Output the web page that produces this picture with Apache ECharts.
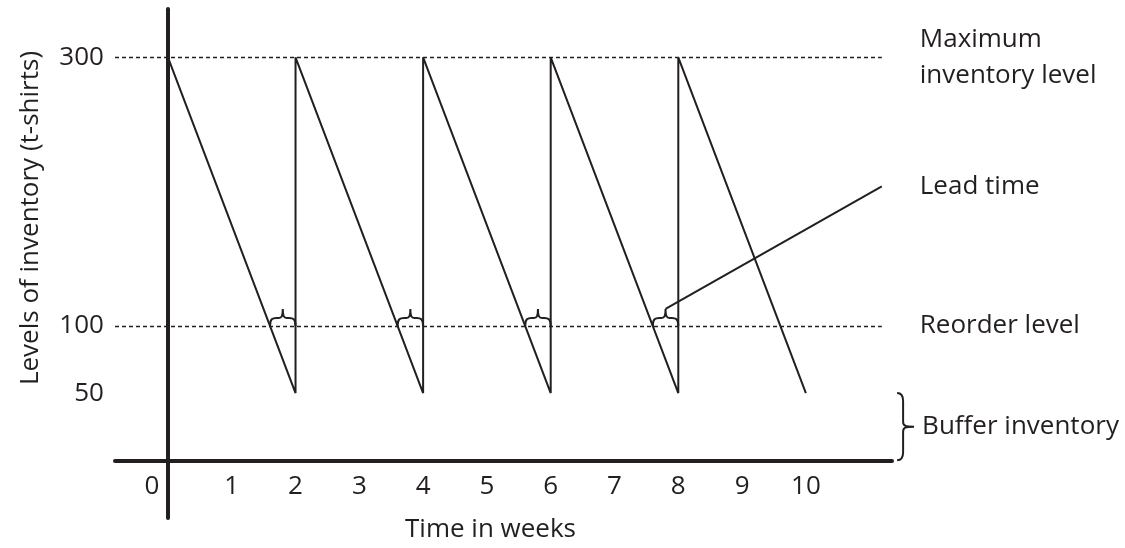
<!DOCTYPE html>
<html>
<head>
<meta charset="utf-8">
<script src="https://cdn.jsdelivr.net/npm/echarts@6/dist/echarts.min.js"></script>
<style>
html,body{margin:0;padding:0;background:#fff;}
#chart{width:1125px;height:548px;}
</style>
</head>
<body>
<div id="chart"></div>
<script>
// ---- data ----
const inventoryWeeks = [0, 2, 2, 4, 4, 6, 6, 8, 8, 10];
const inventoryLevels = [300, 50, 300, 50, 300, 50, 300, 50, 300, 50];
const maxLevel = 300;
const reorderLevel = 100;
const bufferLevel = 50;
const reorderWeeks = [1.6, 3.6, 5.6, 7.6];
const deliveryWeeks = [2, 4, 6, 8];
const weekLabels = [0, 1, 2, 3, 4, 5, 6, 7, 8, 9, 10];
const levelLabels = [300, 100, 50];

// ---- layout / style constants ----
const INK = '#231f20';
const FONT = 'Open Sans';
const FS = 26;
const X_MIN = -0.83, X_MAX = 11.35;
const Y_MIN = -43, Y_MAX = 336;
const GRID = {left: 115, right: 233, top: 9, bottom: 30};
const LINE_END = 11.19;      // where the dashed guide lines stop
const BUFFER_X = 11.43;      // where the buffer brace sits
const LEAD_ANCHOR = [11.19, 204];

// axis lines cross at the zero of the other axis
const plotW = 1125 - GRID.left - GRID.right;
const plotH = 548 - GRID.top - GRID.bottom;
const yAxisOffset = -plotW * (0 - X_MIN) / (X_MAX - X_MIN);
const xAxisOffset = -plotH * (0 - Y_MIN) / (Y_MAX - Y_MIN);

const linePoints = inventoryWeeks.map((w, i) => [w, inventoryLevels[i]]);
const leadData = reorderWeeks.map((w, i) => [w, deliveryWeeks[i], reorderLevel]);

const chart = echarts.init(document.getElementById('chart'), null, {renderer: 'canvas'});

function hBrace(x0, x1, y0) {
  const cx = (x0 + x1) / 2;
  const r = Math.min(8, (x1 - x0) / 4);
  const s = 8, t = 17;
  return `M${x0},${y0} C${x0},${y0 - s + 1} ${x0 + r * 0.4},${y0 - s} ${x0 + r},${y0 - s} ` +
    `L${cx - 4},${y0 - s} C${cx - 1},${y0 - s} ${cx},${y0 - s - 2} ${cx},${y0 - t} ` +
    `C${cx},${y0 - s - 2} ${cx + 1},${y0 - s} ${cx + 4},${y0 - s} ` +
    `L${x1 - r},${y0 - s} C${x1 - r * 0.4},${y0 - s} ${x1},${y0 - s + 1} ${x1},${y0}`;
}
function vBrace(bx, yt, yb) {
  const ym = (yt + yb) / 2;
  const sp = bx + 6, tip = bx + 17;
  return `M${bx},${yt} C${bx + 4},${yt} ${sp},${yt + 2} ${sp},${yt + 8} ` +
    `L${sp},${ym - 5} C${sp},${ym - 1} ${sp + 2},${ym} ${tip},${ym} ` +
    `C${sp + 2},${ym} ${sp},${ym + 1} ${sp},${ym + 5} ` +
    `L${sp},${yb - 8} C${sp},${yb - 2} ${bx + 4},${yb} ${bx},${yb}`;
}

const option = {
  animation: false,
  backgroundColor: '#fff',
  textStyle: {fontFamily: FONT, color: INK},
  grid: Object.assign({containLabel: false, outerBoundsMode: 'none'}, GRID),
  xAxis: {
    type: 'value',
    min: X_MIN, max: X_MAX,
    splitNumber: 12, minInterval: 1, maxInterval: 1,
    offset: xAxisOffset,
    axisLine: {show: true, onZero: false, lineStyle: {color: INK, width: 4}},
    axisTick: {show: false},
    splitLine: {show: false},
    axisLabel: {
      interval: 0, margin: 13, fontSize: FS, fontFamily: FONT, color: INK,
      formatter: v => {
        const r = Math.round(v);
        if (Math.abs(v - r) > 1e-6 || weekLabels.indexOf(r) < 0) return '';
        return r === 0 ? '{z|0}' : String(r);
      },
      rich: {z: {fontSize: FS, fontFamily: FONT, color: INK, padding: [0, 32, 0, 0]}}
    },
    name: 'Time in weeks',
    nameLocation: 'middle',
    nameGap: 56,
    nameTextStyle: {fontSize: FS, fontFamily: FONT, color: INK, padding: [0, 26, 0, 0]}
  },
  yAxis: {
    type: 'value',
    min: Y_MIN, max: Y_MAX,
    minInterval: 50, maxInterval: 50,
    offset: yAxisOffset,
    axisLine: {show: true, onZero: false, lineStyle: {color: INK, width: 4}},
    axisTick: {show: false},
    splitLine: {show: false},
    axisLabel: {
      margin: 64, fontSize: FS, fontFamily: FONT, color: INK,
      formatter: v => (levelLabels.indexOf(v) >= 0 ? String(v) : '')
    },
    name: 'Levels of inventory (t-shirts)',
    nameLocation: 'middle',
    nameRotate: 90,
    nameGap: 124,
    nameTextStyle: {fontSize: FS, fontFamily: FONT, color: INK, padding: [0, 0, 0, 91]}
  },
  series: [
    {
      type: 'line',
      data: linePoints,
      symbol: 'none',
      lineStyle: {color: INK, width: 2},
      z: 3,
      markLine: {
        silent: true,
        symbol: 'none',
        lineStyle: {color: INK, width: 1.3, type: [4, 3]},
        label: {show: false},
        data: [
          [{coord: [X_MIN, maxLevel], label: {show: true, position: 'end', distance: 38,
              formatter: 'Maximum\ninventory level', fontSize: FS, fontFamily: FONT, color: INK, lineHeight: 36, align: 'left'}},
           {coord: [LINE_END, maxLevel]}],
          [{coord: [X_MIN, reorderLevel], label: {show: true, position: 'end', distance: 38,
              formatter: 'Reorder level', fontSize: FS, fontFamily: FONT, color: INK}},
           {coord: [LINE_END, reorderLevel]}],
          [{coord: [X_MIN, bufferLevel]}, {coord: [BUFFER_X, bufferLevel]}]
        ]
      }
    },
    {
      type: 'custom',
      clip: false,
      silent: true,
      data: leadData,
      encode: {x: [0, 1], y: 2},
      renderItem: (params, api) => {
        const p0 = api.coord([api.value(0), api.value(2)]);
        const p1 = api.coord([api.value(1), api.value(2)]);
        const children = [{
          type: 'path',
          shape: {pathData: hBrace(p0[0], p1[0], p0[1])},
          style: {fill: 'none', stroke: INK, lineWidth: 2}
        }];
        if (params.dataIndex === leadData.length - 1) {
          const cx = (p0[0] + p1[0]) / 2, ty = p0[1] - 17;
          const a = api.coord(LEAD_ANCHOR);
          children.push({
            type: 'line',
            shape: {x1: cx, y1: ty, x2: a[0], y2: a[1]},
            style: {stroke: INK, lineWidth: 2}
          });
          children.push({
            type: 'text',
            x: a[0] + 38, y: a[1],
            style: {text: 'Lead time', fontSize: FS, fontFamily: FONT, fill: INK, verticalAlign: 'middle', align: 'left'}
          });
        }
        return {type: 'group', children};
      },
      z: 4
    },
    {
      type: 'custom',
      clip: false,
      silent: true,
      data: [[BUFFER_X, 0, bufferLevel]],
      encode: {x: 0, y: [1, 2]},
      renderItem: (params, api) => {
        const pb = api.coord([api.value(0), api.value(1)]);
        const pt = api.coord([api.value(0), api.value(2)]);
        return {
          type: 'group',
          children: [
            {type: 'path', shape: {pathData: vBrace(pt[0], pt[1], pb[1])},
             style: {fill: 'none', stroke: INK, lineWidth: 2}},
            {type: 'text', x: pt[0] + 25, y: (pt[1] + pb[1]) / 2,
             style: {text: 'Buffer inventory', fontSize: FS, fontFamily: FONT, fill: INK, verticalAlign: 'middle', align: 'left'}}
          ]
        };
      },
      z: 4
    }
  ]
};
chart.setOption(option);
</script>
</body>
</html>
